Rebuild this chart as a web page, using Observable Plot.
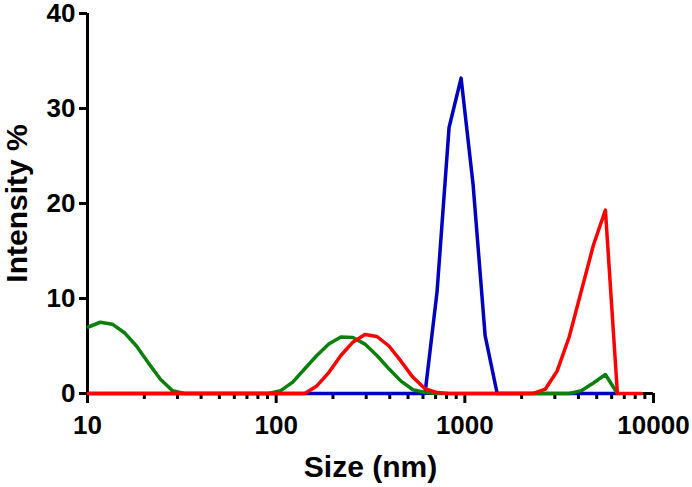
<!DOCTYPE html>
<html><head><meta charset="utf-8">
<script src="https://cdn.jsdelivr.net/npm/d3@7"></script>
<script src="https://cdn.jsdelivr.net/npm/@observablehq/plot@0.6"></script>
<style>body{margin:0;background:#fff}</style>
</head><body><div id="chart"></div>
<script>
// DLS size bins (nm)
const sizes = [10.1, 11.7, 13.54, 15.69, 18.17, 21.04, 24.36, 28.21, 32.67, 37.84,
  43.82, 50.75, 58.77, 68.06, 78.82, 91.28, 105.7, 122.4, 141.8, 164.2,
  190.1, 220.2, 255.0, 295.3, 342.0, 396.1, 458.7, 531.2, 615.1, 712.4,
  825.0, 955.4, 1106, 1281, 1484, 1718, 1990, 2305, 2669, 3091,
  3580, 4145, 4801, 5560, 6439, 7456, 8635];

// Intensity % per bin
const blueValues = [0,0,0,0,0,0,0,0,0,0, 0,0,0,0,0,0,0,0,0,0,
  0,0,0,0,0,0,0,0,0,10.7, 28.0,33.2,22.0,6.1,0,0,0,0,0,0, 0,0,0,0,0];
const greenValues = [7.0,7.5,7.3,6.4,5.0,3.2,1.5,0.3,0,0, 0,0,0,0,0,0,0.3,1.2,2.6,4.0,
  5.2,5.95,5.9,5.2,4.0,2.6,1.3,0.4,0.1,0, 0,0,0,0,0,0,0,0,0,0, 0,0.3,1.1,2.0,0];
const redValues = [0,0,0,0,0,0,0,0,0,0, 0,0,0,0,0,0,0,0,0,0.8,
  2.2,4.0,5.4,6.2,6.0,5.0,3.4,1.7,0.5,0.1, 0,0,0,0,0,0,0,0,0.45,2.4,
  6.0,10.8,15.6,19.3,0,0,0];

const xMajorTicks = [10, 100, 1000, 10000];
const xMinorTicks = [20,30,40,50,60,70,80,90,200,300,400,500,600,700,800,900,2000,3000,4000,5000,6000,7000,8000,9000];
const yTicks = [0, 10, 20, 30, 40];
const xTitle = "Size (nm)";
const yTitle = "Intensity %";

const toRows = vals => vals.map((v, i) => ({size: sizes[i], value: v}));
const font = "'Liberation Sans', Arial, Helvetica, sans-serif";

const chart = Plot.plot({
  width: 692,
  height: 487,
  marginLeft: 87,
  marginRight: 39,
  marginTop: 13,
  marginBottom: 94,
  style: {fontFamily: font, fontWeight: "bold", fontSize: "26px", background: "#fff", color: "#000"},
  x: {type: "log", domain: [10, 10000]},
  y: {domain: [0, 40]},
  marks: [
    Plot.axisY({ticks: yTicks, tickSize: 8, tickPadding: 4, strokeWidth: 3, fontSize: 26, label: null, tickFormat: d => String(d)}),
    Plot.axisX({ticks: xMajorTicks, tickSize: 10, tickPadding: 12, strokeWidth: 3, fontSize: 26, label: null, tickFormat: d => String(d)}),
    Plot.axisX({ticks: xMinorTicks, tickSize: 6, strokeWidth: 3, label: null, tickFormat: () => ""}),
    Plot.ruleY([0], {stroke: "#000", strokeWidth: 3}),
    Plot.ruleX([10], {stroke: "#000", strokeWidth: 3, y1: 0, y2: 40}),
    Plot.line(toRows(blueValues), {x: "size", y: "value", stroke: "#0000c0", strokeWidth: 3.5}),
    Plot.line(toRows(greenValues), {x: "size", y: "value", stroke: "#0a800a", strokeWidth: 3.5}),
    Plot.line(toRows(redValues), {x: "size", y: "value", stroke: "#ff0000", strokeWidth: 3.5}),
    Plot.text([xTitle], {text: d => d, frameAnchor: "bottom", textAnchor: "middle", lineAnchor: "middle", dy: 74, fontSize: 30, fontWeight: "bold"}),
    Plot.text([yTitle], {text: d => d, frameAnchor: "left", textAnchor: "middle", lineAnchor: "middle", dx: -70, rotate: -90, fontSize: 30, fontWeight: "bold"})
  ]
});
document.getElementById("chart").append(chart);
</script>
</body></html>
